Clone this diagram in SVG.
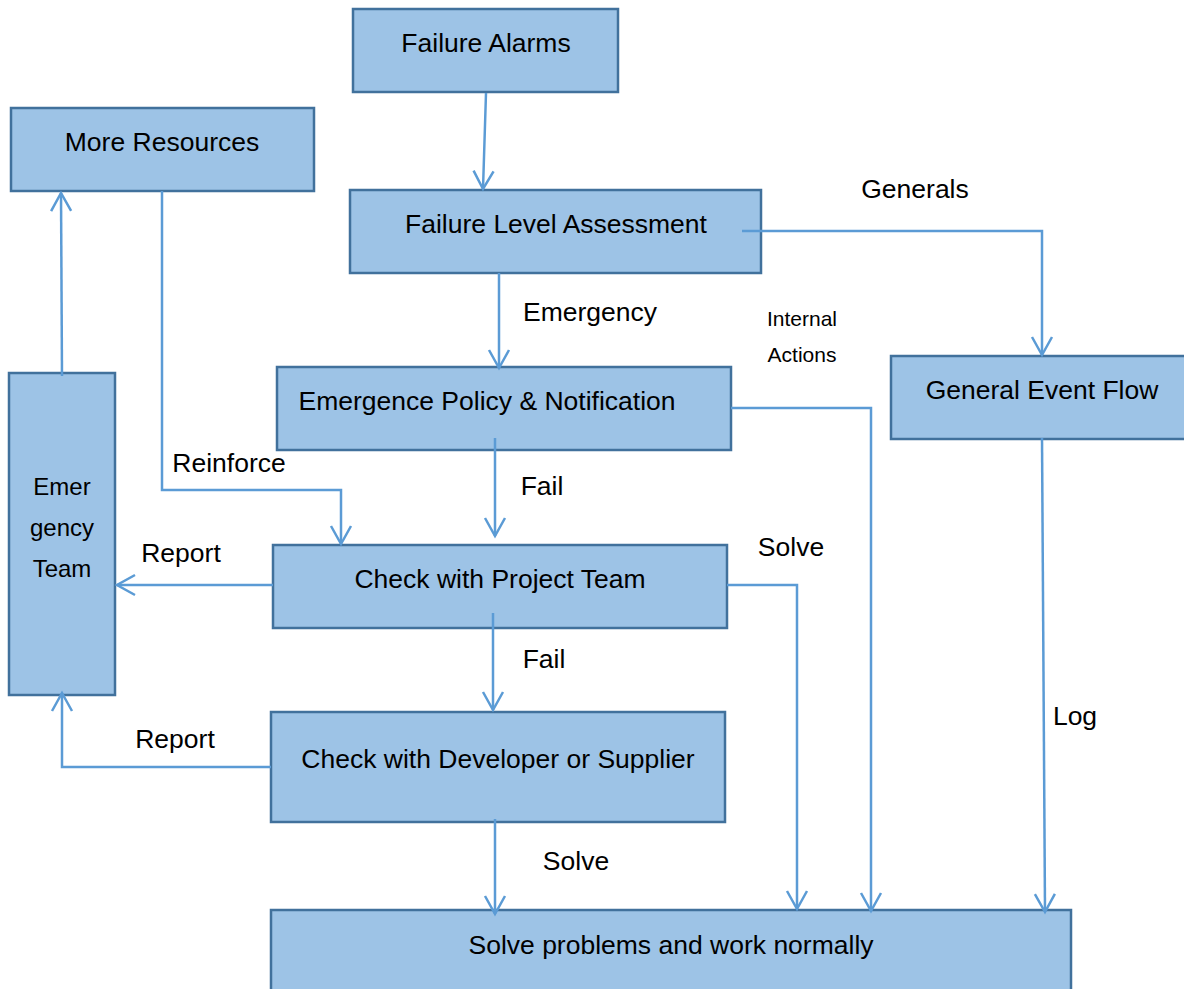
<svg xmlns="http://www.w3.org/2000/svg" width="1184" height="989" viewBox="0 0 1184 989">
<style>
.box{fill:#9DC3E6;stroke:#41719C;stroke-width:2.5}
.t{font-family:"Liberation Sans",Arial,sans-serif;font-size:26.5px;fill:#000;text-anchor:middle}
.s{font-family:"Liberation Sans",Arial,sans-serif;font-size:21px;fill:#000;text-anchor:middle}
.e{font-family:"Liberation Sans",Arial,sans-serif;font-size:24px;fill:#000;text-anchor:middle}
.c{fill:none;stroke:#5B9BD5;stroke-width:2.5;marker-end:url(#arr)}
</style>
<defs>
<marker id="arr" markerUnits="userSpaceOnUse" markerWidth="26" markerHeight="26" viewBox="-22 -13 26 26" refX="0" refY="0" orient="auto">
<path d="M-18,-10 L0,0 L-18,10" fill="none" stroke="#5B9BD5" stroke-width="2.5"/>
</marker>
</defs>
<rect width="1184" height="989" fill="#fff"/>
<g id="failure-alarms"><rect class="box" x="353" y="9" width="265" height="83"/><text class="t" x="486" y="52">Failure Alarms</text></g>
<g id="more-resources"><rect class="box" x="11" y="108" width="303" height="83"/><text class="t" x="162" y="151">More Resources</text></g>
<g id="failure-level"><rect class="box" x="350" y="190" width="411" height="83"/><text class="t" x="556" y="233">Failure Level Assessment</text></g>
<g id="emergence-policy"><rect class="box" x="277" y="367" width="454" height="83"/><text class="t" x="487" y="410">Emergence Policy &amp; Notification</text></g>
<g id="general-event"><rect class="box" x="891" y="356" width="300" height="83"/><text class="t" x="1042" y="399">General Event Flow</text></g>
<g id="emergency-team"><rect class="box" x="9" y="373" width="106" height="322"/><text class="e" x="62" y="495">Emer</text><text class="e" x="62" y="536">gency</text><text class="e" x="62" y="577">Team</text></g>
<g id="project-team"><rect class="box" x="273" y="545" width="454" height="83"/><text class="t" x="500" y="588">Check with Project Team</text></g>
<g id="developer"><rect class="box" x="271" y="712" width="454" height="110"/><text class="t" x="498" y="768">Check with Developer or Supplier</text></g>
<g id="solve"><rect class="box" x="271" y="910" width="800" height="85"/><text class="t" x="671" y="954">Solve problems and work normally</text></g>
<g id="connectors">
<path class="c" d="M486,93 L483,189"/>
<path class="c" d="M499,273 L499,368"/>
<path class="c" d="M742,231 L1042,231 L1042,355"/>
<path class="c" d="M495,438 L495,536"/>
<path class="c" d="M731,408 L871,408 L871,911"/>
<path class="c" d="M1042,438 L1045,912"/>
<path class="c" d="M727,585 L797,585 L797,909"/>
<path class="c" d="M493,613 L493,710"/>
<path class="c" d="M495,819 L495,914"/>
<path class="c" d="M162,191 L162,490 L341,490 L341,544"/>
<path class="c" d="M62,376 L61,193"/>
<path class="c" d="M273,585 L117,585"/>
<path class="c" d="M271,767 L62,767 L62,693"/>
</g>
<g id="labels">
<text class="t" x="915" y="198">Generals</text>
<text class="t" x="590" y="321">Emergency</text>
<text class="s" x="802" y="326">Internal</text>
<text class="s" x="802" y="362">Actions</text>
<text class="t" x="229" y="472">Reinforce</text>
<text class="t" x="542" y="495">Fail</text>
<text class="t" x="181" y="562">Report</text>
<text class="t" x="791" y="556">Solve</text>
<text class="t" x="544" y="668">Fail</text>
<text class="t" x="1075" y="725">Log</text>
<text class="t" x="175" y="748">Report</text>
<text class="t" x="576" y="870">Solve</text>
</g>
</svg>
